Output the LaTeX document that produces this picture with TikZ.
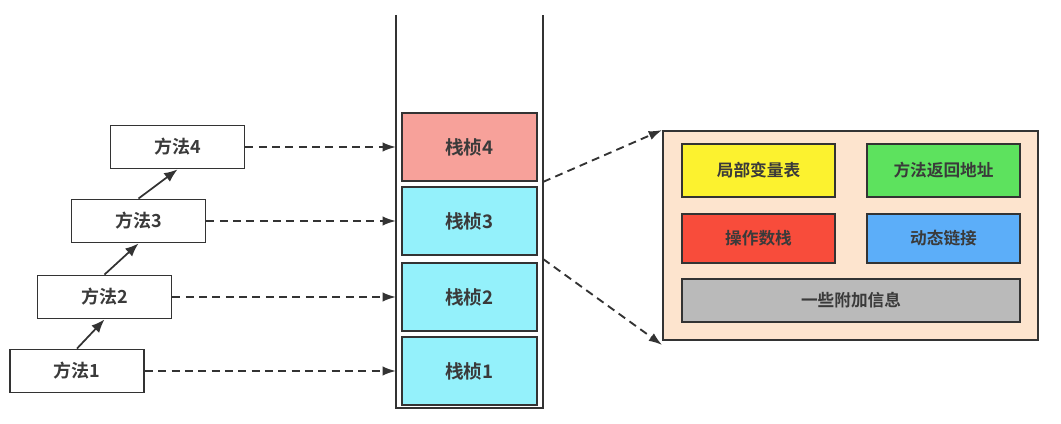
\documentclass[tikz,border=0pt]{standalone}
\usepackage{fontspec}
\setmainfont{Noto Sans CJK SC}[BoldFont={Noto Sans CJK SC Bold}]
\usetikzlibrary{arrows.meta}
\newdimen\px \px=0.75pt
\definecolor{ln}{HTML}{333333}
\definecolor{txt}{HTML}{3A3A3A}
\definecolor{salmon}{HTML}{F7A19A}
\definecolor{cyanf}{HTML}{94F1FB}
\definecolor{peach}{HTML}{FDE4CE}
\definecolor{yel}{HTML}{FCF22F}
\definecolor{grn}{HTML}{5DE25E}
\definecolor{redb}{HTML}{F84C3B}
\definecolor{blu}{HTML}{5CAEF9}
\definecolor{gry}{HTML}{BABABA}
\begin{document}
\begin{tikzpicture}[x=0.75pt,y=-0.75pt,
  every node/.style={text=txt},
  method/.style={draw=ln, line width=1.4pt, fill=white, minimum width=134\px, minimum height=43\px, inner sep=0pt, font=\fontsize{13.5}{15}\selectfont\bfseries},
  frame/.style={draw=ln, line width=1.4pt, minimum width=135\px, minimum height=68\px, inner sep=0pt, font=\fontsize{14}{16}\selectfont\bfseries},
  part/.style={draw=ln, line width=1.4pt, minimum width=153\px, inner sep=0pt, font=\fontsize{12.5}{14}\selectfont\bfseries},
  solidarrow/.style={draw=ln, line width=1.3pt, -{Latex[length=10pt,width=8pt]}},
  dasharrow/.style={draw=ln, line width=1.4pt, dash pattern=on 6pt off 4pt, -{Latex[length=10pt,width=7pt]}},
]
\useasboundingbox (0,0) rectangle (1061,424);
% stack walls
\coordinate (sL) at (396,0);
\coordinate (sR) at (543,0);
\draw[ln, line width=1.4pt] (396,15) -- (396,408) -- (543,408) -- (543,15);
% frames
\node[frame, fill=salmon] (f4) at (469.5,147) {栈桢4};
\node[frame, fill=cyanf] (f3) at (469.5,221) {栈桢3};
\node[frame, fill=cyanf] (f2) at (469.5,297) {栈桢2};
\node[frame, fill=cyanf] (f1) at (469.5,371) {栈桢1};
% methods
\node[method] (m4) at (177.5,147) {方法4};
\node[method] (m3) at (138.5,221) {方法3};
\node[method] (m2) at (104.5,297) {方法2};
\node[method] (m1) at (77,371) {方法1};
\draw[solidarrow] (m1.north) -- (m2.south);
\draw[solidarrow] (m2.north) -- (m3.south);
\draw[solidarrow] (m3.north) -- (m4.south);
\draw[dasharrow] (m4.east) -- (m4.east -| sL);
\draw[dasharrow] (m3.east) -- (m3.east -| sL);
\draw[dasharrow] (m2.east) -- (m2.east -| sL);
\draw[dasharrow] (m1.east) -- (m1.east -| sL);
% detail
\node[draw=ln, line width=1.4pt, fill=peach, minimum width=375\px, minimum height=209\px, inner sep=0pt] (det) at (850.5,235.5) {};
\node[part, fill=yel, minimum height=53\px] (lv) at (758.5,170.5) {局部变量表};
\node[part, fill=grn, minimum height=53\px] (ra) at (943.5,170.5) {方法返回地址};
\node[part, fill=redb, minimum height=49\px] (os) at (758.5,238.5) {操作数栈};
\node[part, fill=blu, minimum height=49\px] (dl) at (943.5,238.5) {动态链接};
\node[part, fill=gry, minimum width=338\px, minimum height=43\px] (ai) at (851,300.5) {一些附加信息};
\draw[dasharrow] (f4.south east -| sR) -- (det.north west);
\draw[dasharrow] ([yshift=-3\px]f3.south east -| sR) -- ([yshift=-4\px]det.south west);
\end{tikzpicture}
\end{document}
